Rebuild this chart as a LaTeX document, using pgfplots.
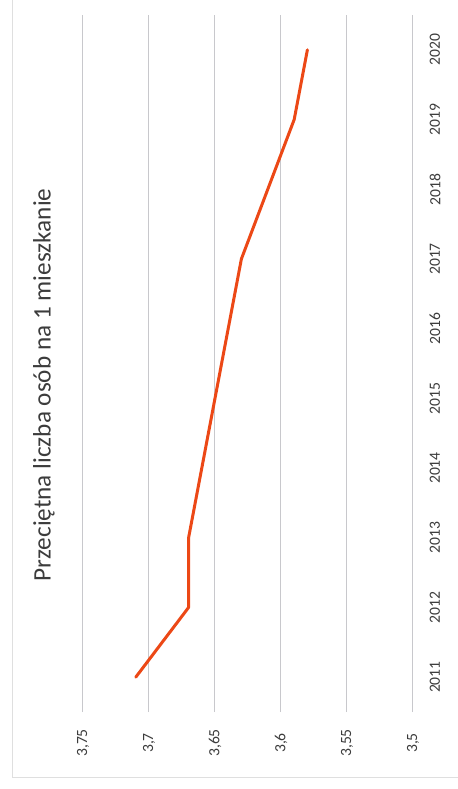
\documentclass[border=0pt]{standalone}
\usepackage{pgfplots}
\pgfplotsset{compat=1.18}
\usepackage{fontspec}
\setmainfont{Carlito}
\definecolor{lineor}{RGB}{236,72,22}
\definecolor{gridc}{RGB}{200,200,204}
\definecolor{txt}{RGB}{60,60,60}
\begin{document}
\begin{tikzpicture}
\useasboundingbox (-41.5pt,-38.5pt) rectangle (187.5pt,356pt);
\draw[gray!25, line width=0.5pt] (-35pt,356pt) -- (-35pt,-32.5pt) -- (187.5pt,-32.5pt);
\begin{axis}[
  at={(0pt,0pt)}, anchor=south west,
  scale only axis, width=165pt, height=348.5pt,
  xmin=3.5, xmax=3.75, x dir=reverse,
  ymin=2010.5, ymax=2020.5,
  xtick={3.5,3.55,3.6,3.65,3.7,3.75},
  xticklabels={{3,5},{3,55},{3,6},{3,65},{3,7},{3,75}},
  ytick={2011,2012,2013,2014,2015,2016,2017,2018,2019,2020},
  yticklabels={2011,2012,2013,2014,2015,2016,2017,2018,2019,2020},
  yticklabel pos=right,
  xmajorgrids, ymajorgrids=false,
  major grid style={gridc, line width=0.5pt},
  axis line style={draw=none},
  major tick length=0pt,
  tick style={draw=none},
  xticklabel style={yshift=-15.5pt, rotate=90, anchor=center, font=\fontsize{7.8}{9}\selectfont, text=txt},
  yticklabel style={xshift=11pt, rotate=90, anchor=center, font=\fontsize{7.8}{9}\selectfont, text=txt},
  clip=false,
]
\addplot[lineor, line width=1.5pt, line join=round, line cap=round] coordinates {
  (3.71,2011) (3.67,2012) (3.67,2013) (3.66,2014) (3.65,2015)
  (3.64,2016) (3.63,2017) (3.61,2018) (3.59,2019) (3.58,2020)
};
\end{axis}
\node[rotate=90, anchor=center, text=txt, font=\fontsize{12.6}{15}\selectfont] at (-19.5pt,163.5pt) {Przeciętna liczba osób na 1 mieszkanie};
\end{tikzpicture}
\end{document}
